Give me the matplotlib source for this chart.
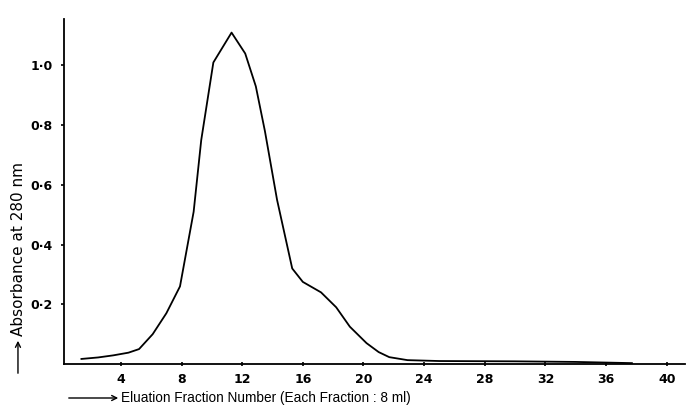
import numpy as np
import matplotlib.pyplot as plt

# elution profile
fraction = [1.4, 2.5, 3.5, 4.5, 5.2, 6.1, 7.0, 7.9, 8.8, 9.3, 10.1, 11.3, 12.2, 12.9,
            13.5, 14.3, 15.3, 16.0, 17.2, 18.2, 19.1, 20.2, 21.0, 21.7, 22.9, 25.0,
            30.0, 34.0, 37.7]
absorbance = [0.017, 0.022, 0.029, 0.038, 0.05, 0.10, 0.17, 0.26, 0.51, 0.75, 1.01,
              1.11, 1.04, 0.93, 0.78, 0.55, 0.32, 0.275, 0.24, 0.19, 0.125, 0.07,
              0.04, 0.023, 0.013, 0.01, 0.009, 0.007, 0.003]

xticks = [4, 8, 12, 16, 20, 24, 28, 32, 36, 40]
yticks = [0.2, 0.4, 0.6, 0.8, 1.0]
ytick_labels = ["0·2", "0·4", "0·6", "0·8", "1·0"]

fig = plt.figure(figsize=(6.91, 4.13), dpi=100)
ax = fig.add_axes([0.0926, 0.1186, 0.8987, 0.835])

ax.plot(fraction, absorbance, color="black", lw=1.3)

ax.set_xlim(0.25, 41.2)
ax.set_ylim(0, 1.155)
ax.spines["top"].set_visible(False)
ax.spines["right"].set_visible(False)
ax.spines["left"].set_linewidth(1.3)
ax.spines["bottom"].set_linewidth(1.3)

ax.set_xticks(xticks)
ax.set_xticklabels([str(t) for t in xticks], fontsize=9, fontweight="bold")
ax.set_yticks(yticks)
ax.set_yticklabels(ytick_labels, fontsize=9, fontweight="bold")
ax.tick_params(axis="x", direction="inout", length=3, width=1.2, pad=5)
ax.tick_params(axis="y", direction="out", length=2, width=1.2, pad=6)

# arrows in front of the axis titles
fig.patches.append(plt.matplotlib.patches.FancyArrowPatch(
    (0.026, 1 - 376 / 413), (0.026, 1 - 338 / 413), transform=fig.transFigure,
    arrowstyle="->", mutation_scale=9, lw=1.0, color="black"))
fig.patches.append(plt.matplotlib.patches.FancyArrowPatch(
    (66 / 691, 1 - 398 / 413), (121 / 691, 1 - 398 / 413), transform=fig.transFigure,
    arrowstyle="->", mutation_scale=9, lw=1.0, color="black"))

fig.text(0.027, 1 - 336 / 413, "Absorbance at 280 nm", rotation=90,
         fontsize=11, ha="center", va="bottom")
fig.text(121 / 691, 1 - 398 / 413, "Eluation Fraction Number (Each Fraction : 8 ml)",
         fontsize=9.8, ha="left", va="center", family="Liberation Sans")

fig.savefig("out.png", dpi=100)
